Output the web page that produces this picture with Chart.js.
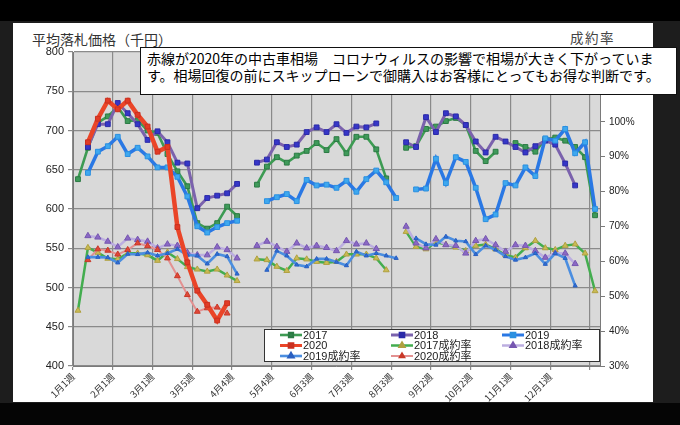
<!DOCTYPE html>
<html lang="ja">
<head>
<meta charset="utf-8">
<script src="https://cdn.jsdelivr.net/npm/chart.js@4.4.1/dist/chart.umd.min.js"></script>
<style>
  html, body { margin: 0; padding: 0; }
  body { width: 680px; height: 425px; background: #1d1d1d; position: relative; overflow: hidden;
         font-family: "Noto Sans CJK JP", sans-serif; }
  #topband { position: absolute; left: 0; top: 0; width: 680px; height: 21px; background: #000; }
  #bottomband { position: absolute; left: 0; top: 403px; width: 680px; height: 22px; background: #050505; }
  #panel { position: absolute; left: 13px; top: 23px; width: 640px; height: 379px; background: #fff; }
  #wrap { position: absolute; left: 0; top: 0; width: 680px; height: 425px; }
  #ttl { position: absolute; left: 32px; top: 29px; font-size: 14px; color: #333; white-space: nowrap; }
  #rttl { position: absolute; left: 570px; top: 27px; font-size: 13.5px; color: #444; letter-spacing: 1.5px; }
  #note { position: absolute; left: 140px; top: 47px; width: 529px; height: 44px; background: #fff;
          border: 1.5px solid #111; padding: 2px 0 0 6px; font-size: 14px; line-height: 17px;
          color: #000; white-space: nowrap; }
</style>
</head>
<body>
<div id="topband"></div>
<div id="bottomband"></div>
<div id="panel"></div>
<div id="ttl">平均落札価格（千円）</div>
<div id="rttl">成約率</div>
<div id="wrap"><canvas id="chart" width="680" height="425"></canvas></div>
<div id="note">赤線が2020年の中古車相場　コロナウィルスの影響で相場が大きく下がっていま<br>す。相場回復の前にスキップローンで御購入はお客様にとってもお得な判断です。</div>
<script>
// 週ラベル（53週）
const weeks = [
  '1月1週','1月2週','1月3週','1月4週',
  '2月1週','2月2週','2月3週','2月4週',
  '3月1週','3月2週','3月3週','3月4週','3月5週',
  '4月1週','4月2週','4月3週','4月4週',
  '5月1週','5月2週','5月3週','5月4週','5月5週',
  '6月1週','6月2週','6月3週','6月4週',
  '7月1週','7月2週','7月3週','7月4週',
  '8月1週','8月2週','8月3週','8月4週','8月5週',
  '9月1週','9月2週','9月3週','9月4週',
  '10月1週','10月2週','10月3週','10月4週','10月5週',
  '11月1週','11月2週','11月3週','11月4週',
  '12月1週','12月2週','12月3週','12月4週','12月5週'
];
const shownWeeks = ['1月1週','2月1週','3月1週','3月5週','4月4週','5月4週','6月3週',
  '7月3週','8月3週','9月2週','10月2週','11月1週','12月1週'];

// 平均落札価格（千円）
const price2017 = [638,678,710,718,730,712,713,700,697,670,648,629,582,575,582,603,591,
  null,631,654,666,659,668,674,684,675,689,671,692,692,676,639,
  null,678,680,702,705,712,716,707,674,661,673,null,684,679,673,689,691,687,679,666,592];
const price2018 = [null,679,708,708,735,722,708,688,699,685,659,658,601,614,617,620,632,
  null,659,663,685,679,682,698,704,698,708,697,705,704,709,null,
  null,685,679,717,698,722,718,707,686,672,692,686,679,672,680,687,682,658,630,null,null];
const price2019 = [null,646,673,680,692,670,678,667,653,653,641,616,578,570,577,582,585,
  null,null,610,615,619,610,637,630,631,627,636,622,638,649,634,
  614,null,625,626,664,633,666,660,627,587,593,633,630,653,642,690,687,702,671,685,600];
const price2020 = [null,685,715,738,727,738,720,705,673,679,577,532,496,478,458,480];

// 成約率（%）
const rate2017 = [45.9,63.9,62.5,60.8,60.6,62.3,62.3,61.8,60.2,62.6,60.7,58.4,57.7,57.1,57.7,56.0,54.4,
  null,60.6,60.4,58.5,57.3,60.9,60.6,59.9,59.6,59.9,62.0,62.0,62.0,60.9,57.5,
  null,68.5,64.2,63.5,65.5,64.8,64.0,63.0,64.5,64.8,63.5,61.8,61.1,63.8,65.9,63.8,63.3,64.5,64.9,62.3,51.5];
const rate2018 = [null,67.3,66.9,65.7,64.1,66.6,66.2,65.7,63.8,64.9,64.5,62.5,61.8,61.8,64.1,63.3,60.9,
  null,64.5,65.7,64.2,62.8,65.2,63.8,64.5,63.9,63.0,65.9,64.9,65.2,63.6,null,
  null,70.0,65.2,63.8,66.4,64.7,64.5,62.3,65.9,66.4,64.7,62.8,64.7,64.5,63.0,61.1,62.3,62.3,59.3,null,null];
const rate2019 = [null,61.2,61.2,61.1,59.6,62.1,62.0,62.5,61.6,62.3,63.5,61.8,61.6,59.3,62.1,61.4,56.4,
  null,null,57.5,63.0,61.6,59.0,58.5,60.7,60.7,59.8,58.8,62.8,61.6,62.3,61.6,
  60.9,null,66.6,64.9,64.7,67.1,65.9,65.7,62.0,64.5,63.3,61.4,60.4,61.1,62.3,59.2,62.3,60.9,53.0,null,null];
const rate2020 = [null,60.4,63.5,63.1,62.0,63.3,65.2,64.4,63.3,60.9,55.8,50.4,45.6,46.6,46.8,45.1];

const plotBg = {
  id: 'plotBg',
  beforeDraw(chart) {
    const { ctx, chartArea: a } = chart;
    ctx.save();
    ctx.fillStyle = '#d9d9d9';
    ctx.fillRect(a.left, a.top, a.right - a.left, a.bottom - a.top);
    ctx.restore();
  }
};

// 枠付き凡例（グラフ内右下）
const boxLegend = {
  id: 'boxLegend',
  afterDatasetsDraw(chart) {
    const ctx = chart.ctx;
    const x0 = 264, y0 = 329, w = 336, h = 33;
    ctx.save();
    ctx.fillStyle = '#fff';
    ctx.fillRect(x0, y0, w, h);
    ctx.strokeStyle = '#333';
    ctx.lineWidth = 1;
    ctx.strokeRect(x0 + 0.5, y0 + 0.5, w - 1, h - 1);
    ctx.font = '11px "Liberation Sans", "Noto Sans CJK JP", sans-serif';
    ctx.textBaseline = 'middle';
    chart.data.datasets.forEach((ds, i) => {
      const col = i % 3, row = Math.floor(i / 3);
      const lx = x0 + 16 + col * 111, ly = y0 + 6 + row * 10.5;
      ctx.strokeStyle = ds.borderColor;
      ctx.lineWidth = Math.min(ds.borderWidth, 3);
      ctx.beginPath(); ctx.moveTo(lx, ly); ctx.lineTo(lx + 22, ly); ctx.stroke();
      ctx.fillStyle = ds.pointBackgroundColor;
      ctx.strokeStyle = ds.pointBorderColor;
      Chart.helpers.drawPoint(ctx, { pointStyle: ds.pointStyle, radius: 2.6, borderWidth: 1, rotation: 0 }, lx + 11, ly);
      ctx.fillStyle = '#222';
      ctx.fillText(ds.label, lx + 23, ly + 0.5);
    });
    ctx.restore();
  }
};

function series(label, data, line, point, edge, style, width, radius, axis, order) {
  return {
    label, data, yAxisID: axis, order,
    borderColor: line, borderWidth: width,
    pointStyle: style, pointRadius: radius, pointHoverRadius: radius,
    pointBackgroundColor: point, pointBorderColor: edge, pointBorderWidth: 1,
    tension: 0, spanGaps: false, fill: false
  };
}

new Chart(document.getElementById('chart').getContext('2d'), {
  type: 'line',
  data: {
    labels: weeks,
    datasets: [
      series('2017', price2017, '#3d9b53', '#3f9a5a', '#2b7a44', 'rect', 2.6, 3.4, 'y', 3),
      series('2018', price2018, '#7b62ad', '#3636c8', '#2a2aa8', 'rect', 3, 3.4, 'y', 2),
      series('2019', price2019, '#2a78e4', '#3ea8ef', '#2a8fe0', 'rect', 3.5, 3.4, 'y', 1),
      series('2020', price2020, '#ea4528', '#e23b25', '#c93020', 'rect', 4.5, 3.4, 'y', 0),
      series('2017成約率', rate2017, '#43ad4f', '#c9bb54', '#b0a040', 'triangle', 2.5, 3.4, 'y1', 7),
      series('2018成約率', rate2018, '#bcaee0', '#8a68c4', '#7656b0', 'triangle', 2.5, 3.6, 'y1', 6),
      series('2019成約率', rate2019, '#4b8ee0', '#2d6fd6', '#2a5fc0', 'triangle', 2.6, 2.4, 'y1', 4),
      series('2020成約率', rate2020, '#e39191', '#e04838', '#c83828', 'triangle', 2, 3.4, 'y1', 5)
    ]
  },
  options: {
    responsive: false,
    animation: false,
    layout: { padding: { left: 0, right: 0, top: 52, bottom: 0 } },
    plugins: { legend: { display: false }, tooltip: { enabled: false } },
    scales: {
      x: {
        offset: true,
        afterFit(s) { s.height = 59; },
        border: { color: '#7a7a7a' },
        grid: {
          offset: true,
          color: c => (c.index % 4 === 0 || c.index === weeks.length) ? '#8a8a8a' : 'rgba(0,0,0,0)',
          lineWidth: 1.2,
          tickLength: 4
        },
        ticks: {
          autoSkip: false,
          maxRotation: 45, minRotation: 45,
          labelOffset: -5,
          padding: 1,
          color: '#333',
          font: { size: 9.5, family: '"Noto Sans CJK JP", sans-serif' },
          callback(v, i) { const l = weeks[i]; return shownWeeks.includes(l) ? l : ''; }
        }
      },
      y: {
        position: 'left',
        min: 400, max: 800,
        afterFit(s) { s.width = 73; },
        border: { color: '#7a7a7a' },
        grid: { color: '#8a8a8a', lineWidth: 1.2, tickLength: 5 },
        ticks: {
          stepSize: 50, padding: 4, color: '#222',
          font: { size: 11, family: '"Liberation Sans", sans-serif' }
        }
      },
      y1: {
        position: 'right',
        min: 30, max: 120,
        afterFit(s) { s.width = 80; },
        border: { color: '#7a7a7a' },
        grid: { drawOnChartArea: false, color: '#7a7a7a', tickLength: 5 },
        ticks: {
          stepSize: 10, padding: 4, color: '#222',
          font: { size: 10, family: '"Liberation Sans", sans-serif' },
          callback: v => v > 100 ? '' : v + '%'
        }
      }
    }
  },
  plugins: [plotBg, boxLegend]
});
</script>
</body>
</html>
